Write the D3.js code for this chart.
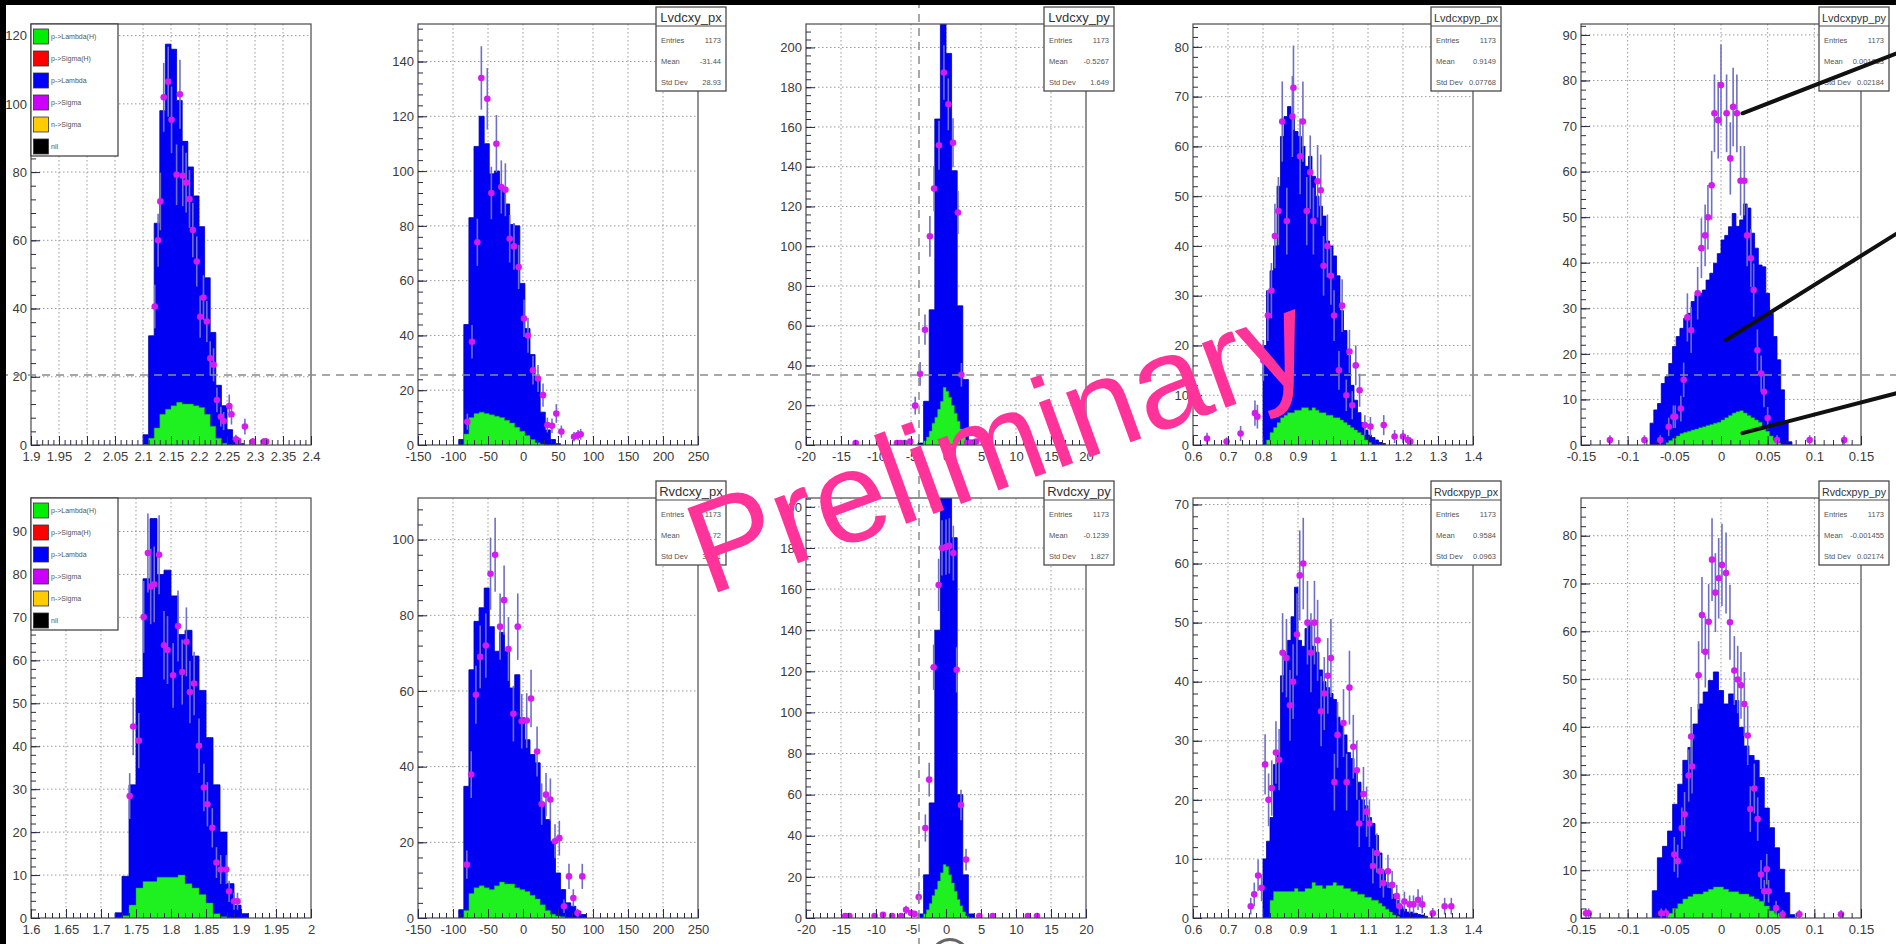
<!DOCTYPE html>
<html>
<head>
<meta charset="utf-8">
<script src="https://cdn.jsdelivr.net/npm/d3@7"></script>
<style>
  body { margin: 0; background: #fff; overflow: hidden; }
  svg text { font-family: "Liberation Sans", Arial, sans-serif; }
</style>
</head>
<body>
<svg id="c" width="1896" height="944"></svg>
<script>
// ---------------------------------------------------------------------------
// Histogram contents: stacked MC (p->Lambda on top of p->Lambda(H)),
// the p->Lambda(H) component alone, and data points [x, counts].
// Each histogram: first bin low edge, bin width, bin contents.
// ---------------------------------------------------------------------------

// Panel 1 (left top)
const p1Lo = 2.10, p1W = 0.01;
const p1StackTop = [3, 32, 65, 98, 117.5, 116, 101, 89, 81.5, 73, 64, 49, 33, 17.5, 11.5, 4.5, 1.5, 0.4];
const p1HLo = 2.10;
const p1LambdaH = [0, 2, 5, 9, 10.5, 11.5, 12.5, 12, 12, 11.5, 11, 9, 5.5, 2, 0.5];
const p1Data = [[2.121,40.6],[2.127,60],[2.131,71.4],[2.137,101.9],[2.145,106.5],[2.151,95.3],[2.16,79.2],[2.166,102.8],[2.171,78.9],[2.177,76.9],[2.183,72.1],[2.189,63],[2.196,53.8],[2.202,37.6],[2.208,43.2],[2.214,36.2],[2.22,25.4],[2.226,23.5],[2.232,13.2],[2.239,8.3],[2.244,7],[2.254,11.4],[2.258,9],[2.266,1.7],[2.27,1.2],[2.282,5.4],[2.296,1],[2.316,1],[2.32,1]];

// Panel 2: Lvdcxy_px
const p2Lo = -91.82, p2W = 7.273;
const p2StackTop = [2, 44, 83, 109, 120, 110, 99, 100, 94, 88, 80.5, 80, 59, 42.5, 33, 23.7, 12, 5.5, 2, 0.5];
const p2HLo = -84.55;
const p2LambdaH = [4, 10, 11.5, 12, 11.5, 11, 10.5, 10, 9, 8, 6.5, 5, 3.5, 2, 0.8, 0.3];
const p2Data = [[-79.5,8.5],[-72.9,37.7],[-65.2,74],[-59.5,134],[-51,126.4],[-45.2,92],[-38,110],[-31,94.2],[-25.2,93.2],[-19,75.3],[-12.9,72.5],[-6.2,65],[1.4,46.2],[7.1,40],[14.3,27.3],[21.4,24.3],[28.6,18.2],[34.8,7.3],[41.4,7],[47.6,11.5],[54.8,4.9],[72.9,3],[78.6,3.6],[82.4,3.9]];

// Panel 3: Lvdcxy_py
const p3Lo = -4.0, p3W = 0.8;
const p3StackTop = [1, 22, 68, 164, 240, 197, 138, 70, 33, 2.5];
const p3HLo = -3.2, p3HW = 0.4;
const p3LambdaH = [2, 4, 7, 11, 14, 18, 22, 29, 27, 24, 20, 16, 12, 8, 5, 2];
const p3Data = [[-12.9,1],[-7,1],[-6.5,1],[-5.9,1],[-5.1,1.7],[-4.4,19.8],[-3.7,35.8],[-3,58],[-2.3,105],[-1.7,129],[-1,150.8],[-0.3,187.4],[0.33,171.4],[1,152],[1.7,117],[2.2,35.3],[3,1],[3.5,1],[4.3,1.7],[5.7,1]];

// Panel 4: Lvdcxpyp_px
const p4Lo = 0.80, p4W = 0.01;
const p4StackTop = [20, 31, 35, 40, 52, 62, 66, 68, 66, 63, 62, 60, 56, 58, 54, 50, 48, 46, 41, 40, 38, 34, 27, 23, 18, 12, 9, 6.5, 4.5, 3, 2, 1.5, 1, 0.5, 0.3];
const p4HLo = 0.81;
const p4LambdaH = [1, 2.5, 3.5, 4.5, 5.5, 6, 6.5, 6.5, 7, 7, 7.5, 7.5, 7, 7.5, 7, 6.5, 6.5, 6, 6, 5.5, 5.5, 5, 4.5, 4, 3.5, 3, 2.5, 2, 1, 0.5];
const p4Data = [[0.64,1.3],[0.696,0.7],[0.736,2.3],[0.777,6.4],[0.784,5.7],[0.801,17],[0.814,26],[0.824,31],[0.834,42],[0.844,47],[0.855,65],[0.868,45],[0.884,66],[0.887,71.8],[0.906,58],[0.914,65],[0.925,47],[0.935,54.8],[0.944,45],[0.956,53],[0.965,51.2],[0.973,36],[0.984,40],[0.994,34],[1.003,26],[1.017,15],[1.026,28],[1.038,10],[1.047,18.8],[1.055,8],[1.065,16],[1.076,11],[1.091,4],[1.107,3.7],[1.145,4],[1.176,1.7],[1.2,1.7],[1.214,1],[1.221,0.7]];

// Panel 5: Lvdcxpyp_py
const p5Lo = -0.076, p5W = 0.004;
const p5StackTop = [4.8, 7.7, 9.1, 13.5, 15, 17.9, 21.6, 23.8, 25.6, 27.8, 28.9, 31.5, 32.9, 33.3, 34, 36.2, 37.7, 39.9, 42, 45, 46, 47.9, 50.8, 48, 49.4, 52.9, 52, 46.5, 43.2, 39.5, 39.1, 33.3, 28.9, 23.8, 18.7, 12.1, 4.8, 0.7];
const p5HLo = -0.06;
const p5LambdaH = [0.5, 1, 1.5, 2, 2.5, 2.8, 3, 3.3, 3.5, 3.8, 4, 4.3, 4.5, 4.8, 5, 5.5, 6, 6.5, 7, 7.3, 7.5, 7, 6.5, 6, 5.5, 5, 4, 3, 2, 1, 0.5];
const p5Data = [[-0.119,1.1],[-0.082,1.1],[-0.065,1.1],[-0.056,4],[-0.051,6.2],[-0.049,6.2],[-0.043,8],[-0.04,14.3],[-0.036,28],[-0.032,25.2],[-0.025,33.3],[-0.021,43.2],[-0.017,46],[-0.014,50],[-0.01,57],[-0.007,72.8],[-0.003,71.3],[0,79],[0.006,72.8],[0.01,62.9],[0.013,74.2],[0.017,72.8],[0.021,58],[0.025,58],[0.028,46],[0.032,41],[0.035,34],[0.039,20.8],[0.043,15.7],[0.046,11.7],[0.05,5.9],[0.06,1.1],[0.095,1.1],[0.132,1.1]];

// Panel 6 (left bottom)
const p6Lo = 1.72, p6W = 0.01;
const p6StackTop = [1.2, 9.7, 31, 56, 79, 93, 80, 81, 75, 66, 67, 61, 53, 42, 31, 20, 8, 3, 1];
const p6HLo = 1.73;
const p6LambdaH = [0.5, 3, 7, 8.5, 8.5, 9.5, 9.5, 9.5, 10, 8, 7, 5.5, 3.5, 1, 0.3];
const p6Data = [[1.741,28.4],[1.746,44.6],[1.754,41.3],[1.761,70.1],[1.767,85],[1.771,77.2],[1.776,77.7],[1.783,84.6],[1.79,63.5],[1.795,62.4],[1.803,56.5],[1.81,68],[1.816,57.3],[1.822,64.3],[1.827,52.6],[1.833,54.6],[1.84,40.1],[1.847,30.4],[1.852,26.5],[1.859,21],[1.865,12.9],[1.871,11.3],[1.879,11.3],[1.883,6.2],[1.89,3.9],[1.895,3.9]];

// Panel 7: Rvdcxy_px
const p7Lo = -91.82, p7W = 7.273;
const p7StackTop = [2.2, 34.8, 65.6, 78.4, 82, 87.2, 77, 70.5, 75.5, 70.5, 60.8, 64.3, 52.9, 47.1, 43.2, 41, 30.4, 26, 20.3, 11.9, 7.5, 4, 3.1, 1.8, 0.9];
const p7HLo = -84.55;
const p7LambdaH = [2, 6.5, 8, 8.5, 8, 7.5, 8.5, 9.5, 9, 9, 8, 7.5, 7, 6, 5, 3.5, 2, 1, 0.5, 0.3];
const p7Data = [[-80.2,14.1],[-74,37.9],[-67.3,59],[-61.2,69],[-53.1,72],[-46.4,91],[-39.8,96],[-32.7,77],[-27,84],[-20.8,71.1],[-13.7,54],[-7.5,77],[-1.8,52],[5.3,52.2],[11.5,58],[20.1,44],[26.7,30.1],[32.9,32.6],[39.1,31.3],[45.7,20.3],[51.9,21.1],[58.5,3.1],[65.7,11],[71.9,5.3],[78,1.3],[84.7,11]];

// Panel 8: Rvdcxy_py
const p8Lo = -4.0, p8W = 0.8;
const p8StackTop = [2, 21, 56, 140, 215, 220, 185, 60, 21, 2];
const p8HLo = -3.2, p8HW = 0.4;
const p8LambdaH = [2, 4, 7, 11, 14, 18, 22, 26, 25, 21, 17, 13, 9, 6, 3, 1];
const p8Data = [[-14.4,1],[-13.8,1],[-10.2,1],[-9,1.5],[-7.7,1],[-6.4,1],[-5.7,4],[-5,2.4],[-4.5,2],[-3.9,10.2],[-2.95,43.8],[-2.4,67.3],[-1.76,122],[-1.05,162],[-0.57,180],[0,180.4],[0.48,181],[1.05,177.5],[1.52,120.7],[2.14,55],[2.86,28.4],[4.76,1],[6.67,1],[11.7,1],[13,1]];

// Panel 9: Rvdcxpyp_px
const p9Lo = 0.80, p9W = 0.01;
const p9StackTop = [10, 13, 17, 26, 28, 41, 45, 47, 51, 56, 47, 46, 49, 50, 46, 45, 42, 40, 39, 38, 37, 34, 33, 31, 28, 27, 25, 23, 20, 19, 17, 16, 14, 11, 8, 6, 5, 4, 3, 2, 1.5, 1, 1, 0.8, 0.6, 0.5, 0.3];
const p9HLo = 0.82;
const p9LambdaH = [3, 4.5, 4.5, 4.5, 4.5, 4.5, 4.5, 5, 4.5, 4.5, 5, 5, 6, 5.5, 5.5, 5, 5.5, 5.5, 6, 5.5, 5.5, 5, 5, 4.5, 4.5, 4, 4, 3.5, 3.5, 3, 3, 2.5, 2, 1.5, 1, 0.5, 0.3];
const p9Data = [[0.765,2],[0.775,4],[0.786,7.2],[0.796,5.1],[0.806,26],[0.816,20],[0.825,22],[0.837,28],[0.846,26.8],[0.856,44.9],[0.867,44],[0.877,36],[0.886,40],[0.897,48],[0.905,58],[0.915,60],[0.927,50],[0.937,44.9],[0.947,50],[0.956,47],[0.966,35],[0.975,38],[0.985,41],[0.994,44],[1.004,23],[1.013,31],[1.03,33],[1.039,23],[1.047,39],[1.058,29],[1.068,25],[1.075,16],[1.087,21],[1.096,18],[1.104,16],[1.114,8.8],[1.125,11],[1.135,7.9],[1.144,5.9],[1.157,7.9],[1.169,5.6],[1.182,3.7],[1.19,2],[1.204,2.8],[1.219,2.3],[1.23,2.3],[1.243,3.1],[1.255,2.3],[1.285,0.8],[1.319,2],[1.338,2]];

// Panel 10: Rvdcxpyp_py
const p10Lo = -0.07364, p10W = 0.005455;
const p10StackTop = [5.7, 12.6, 15, 18.2, 23.8, 28, 33, 35.7, 40.6, 44.8, 47.3, 49.7, 51.5, 47.6, 44.8, 46.9, 45.5, 39.9, 36, 34, 33, 29.4, 23, 18.9, 14.7, 10.2, 5.3, 0.7];
const p10HLo = -0.05727;
const p10LambdaH = [1, 2, 3, 4, 4.5, 5, 5, 5.5, 6, 6.5, 6.5, 6, 5.5, 5.5, 5, 5, 4.5, 4, 3.5, 2.5, 1.5, 1, 0.3];
const p10Data = [[-0.1446,1],[-0.1418,1],[-0.064,1],[-0.059,1],[-0.05,13.3],[-0.0464,11.9],[-0.042,18.8],[-0.039,21.7],[-0.0346,29.8],[-0.032,38],[-0.031,31.7],[-0.024,50.8],[-0.0204,63.4],[-0.0168,55.7],[-0.0132,62],[-0.0096,75],[-0.006,68.1],[-0.0025,71.1],[0.001,73.9],[0.0054,72.2],[0.0096,61.9],[0.0143,51.8],[0.0179,49.9],[0.0214,48.7],[0.025,44.8],[0.0286,38.2],[0.0314,22.8],[0.0357,27.1],[0.0393,20.7],[0.0429,9.1],[0.0464,5.6],[0.049,10.2],[0.051,5.6],[0.059,2.1],[0.066,0.8],[0.084,0.8],[0.1286,0.8]];

// Axis ranges and tick values
const xDomains = [[1.9,2.4],[-150,250],[-20,20],[0.6,1.4],[-0.15,0.15],[1.6,2.0],[-150,250],[-20,20],[0.6,1.4],[-0.15,0.15]];
const yTops = [123.4, 153.7, 211.8, 84.6, 92.4, 97.8, 111, 204.3, 71.1, 87.9];
const xTicksMass1 = [1.9,1.95,2,2.05,2.1,2.15,2.2,2.25,2.3,2.35,2.4];
const xTicksMass2 = [1.6,1.65,1.7,1.75,1.8,1.85,1.9,1.95,2];
const xTicksPx = [-150,-100,-50,0,50,100,150,200,250];
const xTicksPy = [-20,-15,-10,-5,0,5,10,15,20];
const xTicksPypPx = [0.6,0.7,0.8,0.9,1,1.1,1.2,1.3,1.4];
const xTicksPypPy = [-0.15,-0.1,-0.05,0,0.05,0.1,0.15];
const yTicks20 = (m) => d3.range(0, m + 1e-9, 20);
const yTicks10 = (m) => d3.range(0, m + 1e-9, 10);

// Statistics boxes
const statNames = [null, "Lvdcxy_px", "Lvdcxy_py", "Lvdcxpyp_px", "Lvdcxpyp_py", null, "Rvdcxy_px", "Rvdcxy_py", "Rvdcxpyp_px", "Rvdcxpyp_py"];
const statEntries = [1173, 1173, 1173, 1173, 1173, 1173, 1173, 1173, 1173, 1173];
const statMeans = [null, "-31.44", "-0.5267", "0.9149", "0.001853", null, "-18.72", "-0.1239", "0.9584", "-0.001455"];
const statStdDevs = [null, "28.93", "1.649", "0.07768", "0.02184", null, "36.31", "1.827", "0.0963", "0.02174"];

// Legend
const legendLabels = ["p->Lambda(H)", "p->Sigma(H)", "p->Lambda", "p->Sigma", "n->Sigma", "nil"];
const legendColors = ["#00ee00", "#ff0000", "#0000ff", "#cc00ff", "#ffcc00", "#000000"];

// Pointer lines on the Lvdcxpyp_py panel, in its data coordinates
const pointerFrom = [[0.023, 72.8], [0.005, 23], [0.023, 2.6]];
const pointerTo = [[0.189, 86], [0.189, 46.5], [0.189, 11.4]];

// ---------------------------------------------------------------------------
const panels = [
  { xt: xTicksMass1, yt: yTicks20(yTops[0]), st: [p1Lo, p1W, p1StackTop], gr: [p1HLo, p1W, p1LambdaH], data: p1Data },
  { xt: xTicksPx, yt: yTicks20(yTops[1]), st: [p2Lo, p2W, p2StackTop], gr: [p2HLo, p2W, p2LambdaH], data: p2Data },
  { xt: xTicksPy, yt: yTicks20(yTops[2]), st: [p3Lo, p3W, p3StackTop], gr: [p3HLo, p3HW, p3LambdaH], data: p3Data },
  { xt: xTicksPypPx, yt: yTicks10(yTops[3]), st: [p4Lo, p4W, p4StackTop], gr: [p4HLo, p4W, p4LambdaH], data: p4Data },
  { xt: xTicksPypPy, yt: yTicks10(yTops[4]), st: [p5Lo, p5W, p5StackTop], gr: [p5HLo, p5W, p5LambdaH], data: p5Data },
  { xt: xTicksMass2, yt: yTicks10(yTops[5]), st: [p6Lo, p6W, p6StackTop], gr: [p6HLo, p6W, p6LambdaH], data: p6Data },
  { xt: xTicksPx, yt: yTicks20(yTops[6]), st: [p7Lo, p7W, p7StackTop], gr: [p7HLo, p7W, p7LambdaH], data: p7Data },
  { xt: xTicksPy, yt: yTicks20(yTops[7]), st: [p8Lo, p8W, p8StackTop], gr: [p8HLo, p8HW, p8LambdaH], data: p8Data },
  { xt: xTicksPypPx, yt: yTicks10(yTops[8]), st: [p9Lo, p9W, p9StackTop], gr: [p9HLo, p9W, p9LambdaH], data: p9Data },
  { xt: xTicksPypPy, yt: yTicks10(yTops[9]), st: [p10Lo, p10W, p10StackTop], gr: [p10HLo, p10W, p10LambdaH], data: p10Data }
];

// Pad layout
const colLeft = [31, 418, 806, 1193, 1581];
const frameW = 280;
const rowTop = [24, 498], rowBottom = [445, 918];

const svg = d3.select("#c");
svg.append("rect").attr("width", 1896).attr("height", 944).attr("fill", "#fff");
const defs = svg.append("defs");

const fmt = v => String(+v.toFixed(4));
function minorTicks(major, dom, n) {
  const step = (major[1] - major[0]) / n;
  const out = [];
  for (let v = major[0] - step * n; v <= dom[1] + 1e-9; v += step) {
    if (v >= dom[0] - 1e-9 && v <= dom[1] + 1e-9) out.push(+v.toFixed(6));
  }
  return out;
}
function binPoints(lo, w, vals) {
  const pts = vals.map((v, i) => [lo + i * w, v]);
  pts.push([lo + vals.length * w, 0]);
  return pts;
}

const scales = [];

panels.forEach((p, i) => {
  const row = i < 5 ? 0 : 1, col = i % 5;
  const L = colLeft[col], R = L + frameW, T = rowTop[row], B = rowBottom[row];
  const x = d3.scaleLinear().domain(xDomains[i]).range([L, R]);
  const y = d3.scaleLinear().domain([0, yTops[i]]).range([B, T]);
  scales.push({ x, y });
  const g = svg.append("g").attr("class", "pad");

  defs.append("clipPath").attr("id", "clip" + i)
    .append("rect").attr("x", L).attr("y", T).attr("width", R - L).attr("height", B - T);

  // grid
  const grid = g.append("g").attr("stroke", "#9a9a9a").attr("stroke-width", 1).attr("stroke-dasharray", "1.5,2.5");
  grid.selectAll(".gx").data(p.xt.filter(v => v > xDomains[i][0] && v < xDomains[i][1])).join("line")
    .attr("x1", d => x(d)).attr("x2", d => x(d)).attr("y1", T).attr("y2", B);
  grid.selectAll(".gy").data(p.yt.filter(v => v > 0)).join("line")
    .attr("x1", L).attr("x2", R).attr("y1", d => y(d)).attr("y2", d => y(d));

  const hist = g.append("g").attr("clip-path", `url(#clip${i})`);
  const area = d3.area().curve(d3.curveStepAfter).x(d => x(d[0])).y0(y(0)).y1(d => y(d[1]));
  hist.append("path").datum(binPoints(...p.st)).attr("d", area)
    .attr("fill", "#0000f5").attr("stroke", "#0000b0").attr("stroke-width", 0.8);
  hist.append("path").datum(binPoints(...p.gr)).attr("d", area)
    .attr("fill", "#1ff01f").attr("stroke", "#10a010").attr("stroke-width", 0.5);

  // data points with Poisson errors
  const pts = hist.append("g");
  pts.selectAll("line.err").data(p.data).join("line").attr("class", "err")
    .attr("x1", d => x(d[0])).attr("x2", d => x(d[0]))
    .attr("y1", d => y(d[1] + Math.sqrt(d[1]))).attr("y2", d => y(Math.max(0, d[1] - Math.sqrt(d[1]))))
    .attr("stroke", "#6f6fc4").attr("stroke-width", 1.6);
  pts.selectAll("circle").data(p.data).join("circle")
    .attr("cx", d => x(d[0])).attr("cy", d => y(d[1])).attr("r", 3.3)
    .attr("fill", "#d21cf0");

  // frame
  g.append("rect").attr("x", L).attr("y", T).attr("width", R - L).attr("height", B - T)
    .attr("fill", "none").attr("stroke", "#4a4a4a").attr("stroke-width", 1.2);

  // axes
  const xa = g.append("g").attr("transform", `translate(0,${B})`)
    .call(d3.axisBottom(x).tickValues(p.xt).tickSize(-9).tickPadding(7).tickFormat(fmt));
  const xm = g.append("g").attr("transform", `translate(0,${B})`)
    .call(d3.axisBottom(x).tickValues(minorTicks(p.xt, xDomains[i], 5)).tickSize(-5).tickFormat(""));
  const ya = g.append("g").attr("transform", `translate(${L},0)`)
    .call(d3.axisLeft(y).tickValues(p.yt).tickSize(-9).tickPadding(4).tickFormat(fmt));
  const ym = g.append("g").attr("transform", `translate(${L},0)`)
    .call(d3.axisLeft(y).tickValues(minorTicks(p.yt, [0, yTops[i]], 5)).tickSize(-5).tickFormat(""));
  [xa, xm, ya, ym].forEach(a => {
    a.select(".domain").remove();
    a.selectAll("line").attr("stroke", "#2a2a50").attr("stroke-width", 1);
    a.selectAll("text").attr("font-size", 13).attr("fill", "#3a3a3a")
      .attr("font-family", "'Liberation Sans', Arial, sans-serif");
  });

  // statistics box
  if (statNames[i]) {
    const bx = R - 42, by = row === 0 ? 7 : 481, bw = 70, bh = 84;
    const sb = g.append("g");
    sb.append("rect").attr("x", bx).attr("y", by).attr("width", bw).attr("height", bh)
      .attr("fill", "#fff").attr("stroke", "#4a4a4a").attr("stroke-width", 1.3);
    sb.append("line").attr("x1", bx).attr("x2", bx + bw).attr("y1", by + 19).attr("y2", by + 19)
      .attr("stroke", "#4a4a4a").attr("stroke-width", 1.2);
    const t = sb.append("text").attr("x", bx + bw / 2).attr("y", by + 15).attr("text-anchor", "middle")
      .attr("font-size", 13).attr("fill", "#333").text(statNames[i]);
    const len = t.node().getComputedTextLength();
    if (len > bw - 6) t.attr("font-size", 13 * (bw - 6) / len);
    const rows = [["Entries", String(statEntries[i])], ["Mean", statMeans[i]], ["Std Dev", statStdDevs[i]]];
    rows.forEach((r, k) => {
      const ty = by + 36 + k * 21;
      sb.append("text").attr("x", bx + 5).attr("y", ty).attr("font-size", 7.5).attr("fill", "#555").text(r[0]);
      sb.append("text").attr("x", bx + bw - 5).attr("y", ty).attr("text-anchor", "end")
        .attr("font-size", 7.5).attr("fill", "#555").text(r[1]);
    });
  }

  // legend on the first pad of each row
  if (col === 0) {
    const lg = g.append("g");
    lg.append("rect").attr("x", L).attr("y", T).attr("width", 87).attr("height", 132)
      .attr("fill", "#fff").attr("stroke", "#3a3a3a").attr("stroke-width", 1.2);
    legendLabels.forEach((lab, k) => {
      const cy = T + 12.5 + k * 22;
      lg.append("rect").attr("x", L + 2.5).attr("y", cy - 7.5).attr("width", 15).attr("height", 15)
        .attr("fill", legendColors[k]).attr("stroke", "#333").attr("stroke-width", 0.8);
      lg.append("text").attr("x", L + 20).attr("y", cy + 2.5).attr("font-size", 7).attr("fill", "#555").text(lab);
    });
  }
});

// pointer lines on the Lvdcxpyp_py pad
const s5 = scales[4];
svg.append("g").selectAll("line").data(d3.zip(pointerFrom, pointerTo)).join("line")
  .attr("x1", d => s5.x(d[0][0])).attr("y1", d => s5.y(d[0][1]))
  .attr("x2", d => s5.x(d[1][0])).attr("y2", d => s5.y(d[1][1]))
  .attr("stroke", "#111").attr("stroke-width", 4).attr("stroke-linecap", "round");

// crosshair guides
const guides = svg.append("g").attr("stroke", "#8c8c8c").attr("stroke-width", 1.5).attr("stroke-dasharray", "8,6");
guides.append("line").attr("x1", 0).attr("x2", 1896).attr("y1", 375).attr("y2", 375);
guides.append("line").attr("x1", 919).attr("x2", 919).attr("y1", 0).attr("y2", 944);

// watermark
svg.append("text").attr("transform", "translate(708,596) rotate(-20)")
  .attr("font-family", "Lato, 'Open Sans', sans-serif").attr("font-size", 130).attr("font-weight", 400)
  .attr("fill", "#ff3399").text("Preliminary");

// small ring near the bottom edge
svg.append("path").attr("transform", "translate(950,958)")
  .attr("d", d3.arc()({ innerRadius: 17, outerRadius: 20, startAngle: -1.25, endAngle: 1.25 }))
  .attr("fill", "#666");

// dark edges of the photographed screen
svg.append("rect").attr("x", 0).attr("y", 0).attr("width", 1896).attr("height", 5).attr("fill", "#000");
svg.append("rect").attr("x", 0).attr("y", 0).attr("width", 6).attr("height", 944).attr("fill", "#000");
</script>
</body>
</html>
